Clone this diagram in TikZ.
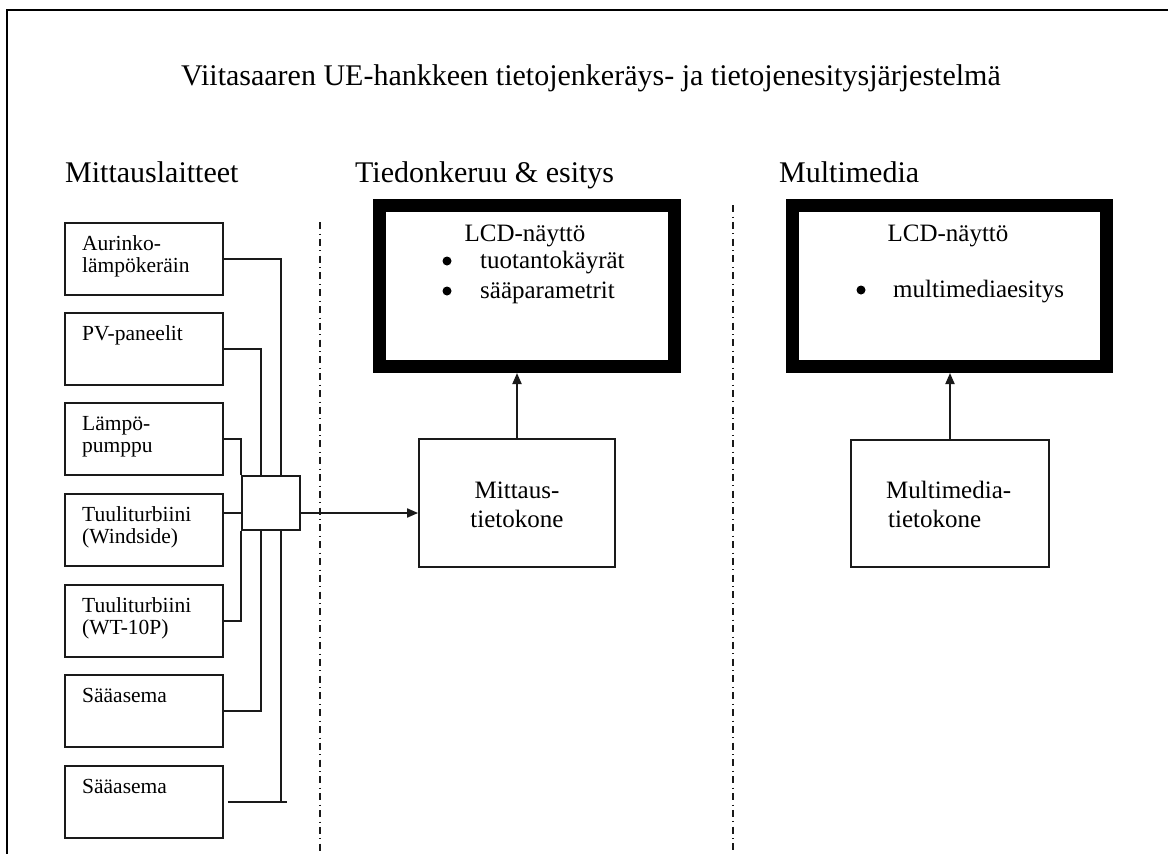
\documentclass[tikz,border=0pt]{standalone}
\usepackage{fontspec}
\setmainfont{Liberation Serif}
\usetikzlibrary{arrows.meta}
\definecolor{vsaInk}{HTML}{1A1A1A}
\tikzset{
  vsa frame/.style={draw=black, line width=2.6pt},
  vsa box/.style={draw=vsaInk, line width=1.8pt, inner sep=0pt},
  vsa screen/.style={draw=black, line width=13pt, inner sep=0pt},
  vsa wire/.style={draw=vsaInk, line width=1.8pt},
  vsa arrow/.style={vsa wire, -{Triangle[length=11pt,width=9pt]}},
  vsa divider/.style={draw=vsaInk, line width=1.6pt, dash pattern=on 7pt off 4.5pt on 0.8pt off 4.5pt},
  vsa title/.style={font=\fontsize{30}{36}\selectfont, inner sep=0pt, anchor=base},
  vsa head/.style={font=\fontsize{30}{36}\selectfont, inner sep=0pt, anchor=base west},
  vsa small/.style={font=\fontsize{21.5}{26}\selectfont, inner sep=0pt, anchor=base west},
  vsa text/.style={font=\fontsize{25}{30}\selectfont, inner sep=0pt},
  vsa dot/.style={circle, fill=black, inner sep=0pt, minimum size=9pt},
}

\begin{document}
\begin{tikzpicture}[x=1pt, y=-1pt]
  \useasboundingbox (0,0) rectangle (1168,854);
  % ----- frame and title -----
  \draw[vsa frame] (7,854) -- (7,10) -- (1168,10);
  \node[vsa title] (title) at (591,85) {Viitasaaren UE-hankkeen tietojenkeräys- ja tietojenesitysjärjestelmä};
  \node[vsa head] (head src) at (65,182) {Mittauslaitteet};
  \node[vsa head] (head acq) at (355,182) {Tiedonkeruu \& esitys};
  \node[vsa head] (head mm) at (779,182) {Multimedia};
  % ----- column dividers -----
  \draw[vsa divider] (320,222) -- (320,854);
  \draw[vsa divider] (733,205) -- (733,854);
  % ----- Mittauslaitteet: seven sources -----
  \node[vsa box, minimum width=158pt, minimum height=72pt] (src1) at (144,259) {};
  \node[vsa small] (src1 a) at (82,250) {Aurinko-};
  \node[vsa small] (src1 b) at (82,272) {lämpökeräin};
  \node[vsa box, minimum width=158pt, minimum height=72pt] (src2) at (144,349) {};
  \node[vsa small] (src2 a) at (82,340) {PV-paneelit};
  \node[vsa box, minimum width=158pt, minimum height=72pt] (src3) at (144,439) {};
  \node[vsa small] (src3 a) at (82,430) {Lämpö-};
  \node[vsa small] (src3 b) at (82,452) {pumppu};
  \node[vsa box, minimum width=158pt, minimum height=72pt] (src4) at (144,530) {};
  \node[vsa small] (src4 a) at (82,521) {Tuuliturbiini};
  \node[vsa small] (src4 b) at (82,543) {(Windside)};
  \node[vsa box, minimum width=158pt, minimum height=72pt] (src5) at (144,621) {};
  \node[vsa small] (src5 a) at (82,612) {Tuuliturbiini};
  \node[vsa small] (src5 b) at (82,634) {(WT-10P)};
  \node[vsa box, minimum width=158pt, minimum height=72pt] (src6) at (144,711) {};
  \node[vsa small] (src6 a) at (82,702) {Sääasema};
  \node[vsa box, minimum width=158pt, minimum height=72pt] (src7) at (144,802) {};
  \node[vsa small] (src7 a) at (82,793) {Sääasema};
  % ----- junction box and wiring -----
  \node[vsa box, minimum width=58pt, minimum height=54pt] (hub) at (271,503) {};
  \coordinate (hub tap) at ([yshift=-10pt]hub.west);
  \draw[vsa wire] (src1.east) -| ([xshift=10pt]hub.north);
  \draw[vsa wire] (src2.east) -| ([xshift=-10pt]hub.north);
  \draw[vsa wire] (src3.east) -| (hub.north west);
  \draw[vsa wire] (src4.east |- hub tap) -- (hub tap);
  \draw[vsa wire] (src5.east) -| (hub.south west);
  \draw[vsa wire] (src6.east) -| ([xshift=-10pt]hub.south);
  \draw[vsa wire] ([xshift=10pt]hub.south) -- ([xshift=10pt]hub.south |- src7.east);
  \draw[vsa wire] ([xshift=4pt]src7.east) -- ([xshift=16pt]hub.south |- src7.east);
  % ----- Tiedonkeruu & esitys -----
  \node[vsa box, minimum width=196pt, minimum height=128pt] (mitt) at (517,503) {};
  \node[vsa text, anchor=base] (mitt a) at (517,498) {Mittaus-};
  \node[vsa text, anchor=base] (mitt b) at (517,527) {tietokone};
  \node[vsa screen, minimum width=295pt, minimum height=161pt] (lcd1) at (527,286) {};
  \node[vsa text, anchor=base] (lcd1 head) at (525,241) {LCD-näyttö};
  \node[vsa dot] (lcd1 dot1) at (447,261) {};
  \node[vsa text, anchor=base west] (lcd1 item1) at (480,268) {tuotantokäyrät};
  \node[vsa dot] (lcd1 dot2) at (447,291) {};
  \node[vsa text, anchor=base west] (lcd1 item2) at (480,298) {sääparametrit};
  \draw[vsa arrow] ([yshift=-10pt]hub.east) -- ([yshift=-10pt]mitt.west);
  \draw[vsa arrow] (mitt.north) -- (mitt.north |- lcd1.south);
  % ----- Multimedia -----
  \node[vsa box, minimum width=198pt, minimum height=127pt] (mm) at (950,503.5) {};
  \node[vsa text, anchor=base west] (mm a) at (886,498) {Multimedia-};
  \node[vsa text, anchor=base west] (mm b) at (888,527) {tietokone};
  \node[vsa screen, minimum width=314pt, minimum height=161pt] (lcd2) at (949.5,286) {};
  \node[vsa text, anchor=base] (lcd2 head) at (948,241) {LCD-näyttö};
  \node[vsa dot] (lcd2 dot1) at (861,290) {};
  \node[vsa text, anchor=base west] (lcd2 item1) at (893,297) {multimediaesitys};
  \draw[vsa arrow] (mm.north) -- (mm.north |- lcd2.south);
\end{tikzpicture}
\end{document}
